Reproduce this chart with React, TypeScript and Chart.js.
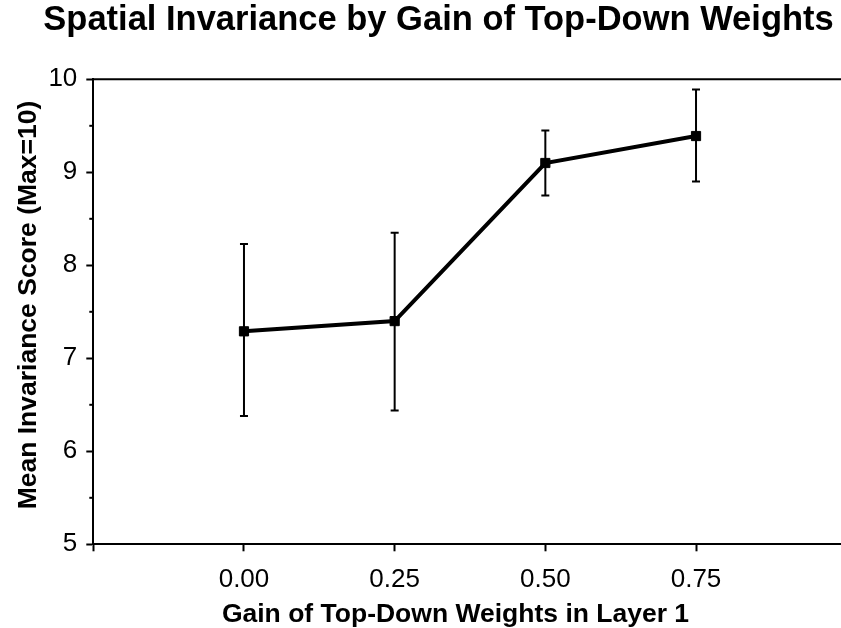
import React, { useEffect, useRef } from "react";
import { Chart, registerables } from "chart.js";

Chart.register(...registerables);

const TITLE = "Spatial Invariance by Gain of Top-Down Weights";
const X_TITLE = "Gain of Top-Down Weights in Layer 1";
const Y_TITLE = "Mean Invariance Score (Max=10)";

const gains = [0, 0.25, 0.5, 0.75];
const meanScores = [7.29, 7.4, 9.1, 9.39];
const lowerBounds = [6.38, 6.44, 8.75, 8.9];
const upperBounds = [8.23, 8.35, 9.45, 9.89];
const xLabelledTicks = [0, 0.25, 0.5, 0.75];
const yMinorTicks = [5.5, 6.5, 7.5, 8.5, 9.5];

const FONT = "'Liberation Sans', Arial, Helvetica, sans-serif";

const decorPlugin = {
  id: "decor",
  beforeDatasetsDraw(chart: any) {
    const { ctx, scales } = chart;
    const x = scales.x;
    const y = scales.y;
    ctx.save();
    ctx.strokeStyle = "#000";
    ctx.lineWidth = 2;
    gains.forEach((g, i) => {
      const px = x.getPixelForValue(g);
      const top = y.getPixelForValue(upperBounds[i]);
      const bot = y.getPixelForValue(lowerBounds[i]);
      ctx.beginPath();
      ctx.moveTo(px, top);
      ctx.lineTo(px, bot);
      ctx.moveTo(px - 4, top);
      ctx.lineTo(px + 4, top);
      ctx.moveTo(px - 4, bot);
      ctx.lineTo(px + 4, bot);
      ctx.stroke();
    });
    ctx.restore();
  },
  afterDraw(chart: any) {
    const { ctx, chartArea, scales } = chart;
    const y = scales.y;
    ctx.save();
    ctx.strokeStyle = "#000";
    ctx.lineWidth = 2;
    ctx.beginPath();
    ctx.moveTo(chartArea.left, chartArea.top);
    ctx.lineTo(chartArea.right, chartArea.top);
    ctx.stroke();
    yMinorTicks.forEach((v) => {
      const py = y.getPixelForValue(v);
      ctx.beginPath();
      ctx.moveTo(chartArea.left - 4, py);
      ctx.lineTo(chartArea.left, py);
      ctx.stroke();
    });
    ctx.fillStyle = "#000";
    ctx.font = `bold 26.5px ${FONT}`;
    ctx.textAlign = "center";
    ctx.textBaseline = "alphabetic";
    ctx.fillText(X_TITLE, 455.5, 622);
    ctx.translate(29, 305);
    ctx.rotate(-Math.PI / 2);
    ctx.textBaseline = "middle";
    ctx.fillText(Y_TITLE, 0, 0);
    ctx.restore();
  },
};

export default function App() {
  const ref = useRef<HTMLCanvasElement>(null);

  useEffect(() => {
    if (!ref.current) return;
    const chart = new Chart(ref.current, {
      type: "line",
      data: {
        datasets: [
          {
            data: gains.map((g, i) => ({ x: g, y: meanScores[i] })),
            borderColor: "#000",
            backgroundColor: "#000",
            borderWidth: 4,
            pointStyle: "rect",
            pointRadius: 6.5,
            pointBorderWidth: 1,
            pointBorderColor: "#000",
            pointBackgroundColor: "#000",
            tension: 0,
            fill: false,
          },
        ],
      },
      options: {
        animation: false,
        responsive: false,
        events: [],
        layout: { padding: { top: 0, left: 30.3, right: 30.3, bottom: 0 } },
        plugins: {
          legend: { display: false },
          tooltip: { enabled: false },
          title: {
            display: true,
            text: TITLE,
            color: "#000",
            font: { family: FONT, size: 34.5, weight: "bold", lineHeight: 1.2 },
            padding: { top: 0, bottom: 37.9 },
          },
        },
        scales: {
          x: {
            type: "linear",
            min: -0.25,
            max: 1.0,
            afterFit: (s: any) => {
              s.height = 83.7;
            },
            border: { display: true, color: "#000", width: 2 },
            grid: {
              display: true,
              drawOnChartArea: false,
              drawTicks: true,
              tickLength: 7,
              tickWidth: 2,
              tickColor: "#000",
            },
            ticks: {
              stepSize: 0.25,
              autoSkip: false,
              maxRotation: 0,
              padding: 13,
              color: "#000",
              font: { family: FONT, size: 26 },
              callback: (v: any) => {
                const n = Number(v);
                return xLabelledTicks.some((t) => Math.abs(t - n) < 1e-6) ? n.toFixed(2) : "";
              },
            },
          },
          y: {
            type: "linear",
            min: 5,
            max: 10,
            afterFit: (s: any) => {
              s.width = 63;
            },
            border: { display: true, color: "#000", width: 2 },
            grid: {
              display: true,
              drawOnChartArea: false,
              drawTicks: true,
              tickLength: 7,
              tickWidth: 2,
              tickColor: "#000",
            },
            ticks: {
              stepSize: 1,
              padding: 9,
              color: "#000",
              font: { family: FONT, size: 26 },
            },
          },
        },
      },
      plugins: [decorPlugin],
    });
    return () => chart.destroy();
  }, []);

  return (
    <div
      style={{
        position: "fixed",
        left: 0,
        top: 0,
        width: 841,
        height: 628,
        overflow: "hidden",
        background: "#fff",
      }}
    >
      <canvas ref={ref} width={877} height={628} style={{ width: 877, height: 628, display: "block" }} />
    </div>
  );
}
